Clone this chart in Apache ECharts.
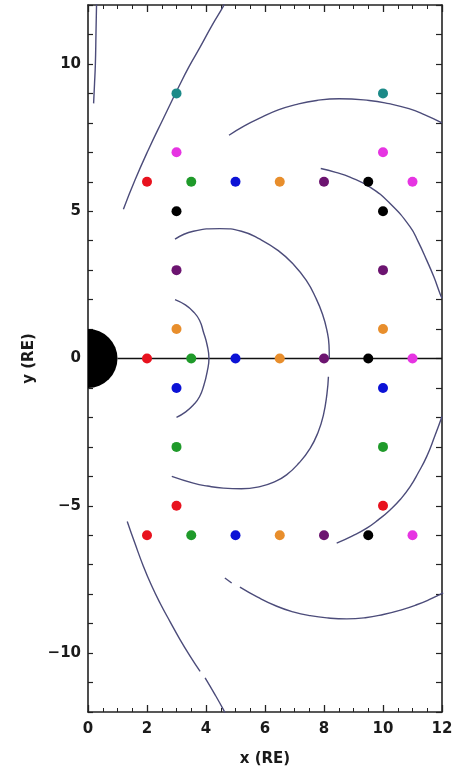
<!DOCTYPE html>
<html>
<head>
<meta charset="utf-8">
<script src="https://cdn.jsdelivr.net/npm/echarts@6/dist/echarts.min.js"></script>
<style>
  html, body { margin: 0; padding: 0; background: #ffffff; }
  #chart { width: 459px; height: 774px; }
</style>
</head>
<body>
<div id="chart"></div>
<script>
// Axis ranges and tick labels
const xRange = [0, 12];
const yRange = [-12, 12];
const xTickLabels = [0, 2, 4, 6, 8, 10, 12];
const yTickLabels = [-10, -5, 0, 5, 10];

// Earth (radius 1 RE) and the Sun-Earth line
const earthRadius = [1];
const sunEarthLine = [[1, 0], [12, 0]];

// Probe positions, grouped by marker colour
const redPts     = [[2, 6], [2, 0], [2, -6], [3, -5], [10, -5]];
const greenPts   = [[3.5, 6], [3.5, 0], [3.5, -6], [3, -3], [10, -3]];
const bluePts    = [[5, 6], [5, 0], [5, -6], [3, -1], [10, -1]];
const orangePts  = [[6.5, 6], [6.5, 0], [6.5, -6], [3, 1], [10, 1]];
const purplePts  = [[8, 6], [8, 0], [8, -6], [3, 3], [10, 3]];
const blackPts   = [[9.5, 6], [9.5, 0], [9.5, -6], [3, 5], [10, 5]];
const magentaPts = [[11, 6], [11, 0], [11, -6], [3, 7], [10, 7]];
const tealPts    = [[3, 9], [10, 9]];

// Boundary traces
const innerArc = [[2.95, 2.0], [3.3, 1.82], [3.57, 1.59], [3.78, 1.3], [3.91, 0.91], [4.04, 0.45], [4.1, 0],
  [4.04, -0.45], [3.93, -0.9], [3.78, -1.3], [3.57, -1.58], [3.3, -1.82], [3.0, -2.0]];
const middleArcNorth = [[2.95, 4.05], [3.57, 4.32], [4.47, 4.41], [5.2, 4.32], [5.83, 4.05], [6.45, 3.66], [6.96, 3.2],
  [7.4, 2.65], [7.72, 2.06], [7.95, 1.5], [8.1, 0.95], [8.17, 0.45], [8.18, 0]];
const middleArcSouth = [[8.15, -0.62], [8.1, -1.2], [7.98, -1.92], [7.8, -2.5], [7.53, -3.05], [7.15, -3.55], [6.73, -3.95],
  [6.3, -4.2], [5.83, -4.35], [5.2, -4.42], [4.59, -4.4], [4.05, -4.33], [3.57, -4.23], [2.84, -4.0]];
const outerArcNorth = [[4.78, 7.58], [5.3, 7.9], [5.91, 8.2], [6.45, 8.44], [7.04, 8.62], [7.75, 8.76], [8.51, 8.82],
  [9.53, 8.76], [10.2, 8.65], [10.88, 8.48], [11.4, 8.28], [12.0, 8.0]];
const outerArcSouthDash = [[4.64, -7.45], [4.87, -7.62]];
const outerArcSouth = [[5.15, -7.76], [5.75, -8.1], [6.4, -8.41], [6.95, -8.6], [7.53, -8.73], [8.15, -8.81], [8.77, -8.84],
  [9.4, -8.8], [10.01, -8.69], [10.6, -8.54], [11.14, -8.36], [11.6, -8.17], [12.04, -7.96]];
const rightArcNorth = [[7.89, 6.45], [8.4, 6.32], [8.88, 6.16], [9.56, 5.82], [10.24, 5.26], [10.92, 4.47], [11.2, 3.95],
  [11.48, 3.34], [11.72, 2.78], [11.93, 2.21], [12.0, 2.05]];
const rightArcSouth = [[12.0, -1.97], [11.75, -2.65], [11.48, -3.33], [11.2, -3.87], [10.92, -4.35], [10.6, -4.77],
  [10.24, -5.14], [9.85, -5.47], [9.45, -5.76], [8.95, -6.03], [8.43, -6.27]];
const dayArcUpper = [[1.2, 5.07], [1.59, 6.05], [2.04, 7.07], [2.55, 8.14], [3.06, 9.19], [3.42, 9.9], [3.8, 10.57],
  [4.2, 11.3], [4.59, 11.96], [4.62, 12.05]];
const dayArcLower = [[1.33, -5.53], [1.6, -6.3], [1.88, -7.06], [2.15, -7.7], [2.44, -8.3], [2.78, -8.93], [3.12, -9.54],
  [3.46, -10.1], [3.8, -10.62]];
const dayArcLowerTail = [[3.97, -10.84], [4.3, -11.4], [4.59, -11.92], [4.65, -12.05]];
const nearAxisTrace = [[0.29, 12.05], [0.27, 11.0], [0.25, 10.0], [0.22, 9.3], [0.19, 8.66]];

const traceColor = '#4c4c7a';
const tickFont = { fontFamily: 'DejaVu Sans', fontSize: 15, fontWeight: 'bold', color: '#1a1a1a' };

function traceSeries(data) {
  return {
    type: 'line', data: data, smooth: true, showSymbol: false, symbol: 'none',
    lineStyle: { color: traceColor, width: 1.4 }, z: 3, silent: true, clip: true
  };
}
function dotSeries(data, color) {
  return {
    type: 'scatter', data: data, symbol: 'circle', symbolSize: 10,
    itemStyle: { color: color, opacity: 1 }, z: 6, silent: true
  };
}

const chart = echarts.init(document.getElementById('chart'), null, { renderer: 'canvas' });

const frameLine = { show: true, onZero: false, lineStyle: { color: '#222', width: 1.6 } };

chart.setOption({
  animation: false,
  backgroundColor: '#ffffff',
  grid: { left: 88, right: 17, top: 5, bottom: 62, containLabel: false, outerBoundsMode: 'none' },
  xAxis: [
    {
      type: 'value', min: xRange[0], max: xRange[1], interval: 2, position: 'bottom',
      axisLine: frameLine,
      axisTick: { show: true, inside: true, length: 7, lineStyle: { color: '#222', width: 1.3 } },
      minorTick: { show: true, splitNumber: 4, length: 4, lineStyle: { color: '#222', width: 1 } },
      splitLine: { show: false },
      axisLabel: Object.assign({ margin: 10, formatter: v => xTickLabels.includes(v) ? String(v) : '' }, tickFont),
      name: 'x (RE)', nameLocation: 'middle', nameGap: 40,
      nameTextStyle: { fontFamily: 'DejaVu Sans', fontSize: 15, fontWeight: 'bold', color: '#1a1a1a' }
    },
    {
      type: 'value', min: xRange[0], max: xRange[1], interval: 2, position: 'top',
      axisLine: frameLine,
      axisTick: { show: true, inside: true, length: 7, lineStyle: { color: '#222', width: 1.3 } },
      minorTick: { show: true, splitNumber: 4, length: 4, lineStyle: { color: '#222', width: 1 } },
      splitLine: { show: false }, axisLabel: { show: false }
    }
  ],
  yAxis: [
    {
      type: 'value', min: yRange[0], max: yRange[1], interval: 1, position: 'left',
      axisLine: frameLine,
      axisTick: { show: true, inside: true, length: 5, lineStyle: { color: '#222', width: 1.2 } },
      splitLine: { show: false },
      axisLabel: Object.assign({
        margin: 7,
        formatter: v => yTickLabels.includes(v) ? String(v).replace('-', '\u2212') : ''
      }, tickFont),
      name: 'y (RE)', nameLocation: 'middle', nameGap: 48, nameRotate: 90,
      nameTextStyle: { fontFamily: 'DejaVu Sans', fontSize: 15, fontWeight: 'bold', color: '#1a1a1a' }
    },
    {
      type: 'value', min: yRange[0], max: yRange[1], interval: 1, position: 'right',
      axisLine: frameLine,
      axisTick: { show: true, inside: true, length: 6, lineStyle: { color: '#222', width: 1.2 } },
      splitLine: { show: false }, axisLabel: { show: false }
    }
  ],
  series: [
    {
      type: 'line', data: sunEarthLine, showSymbol: false, symbol: 'none',
      lineStyle: { color: '#111', width: 1.6 }, z: 2, silent: true
    },
    {
      // Earth: the dayside half of a disk of radius 1 RE
      type: 'custom', data: [[0, 0, earthRadius[0]]], z: 5, silent: true,
      renderItem: function (params, api) {
        const c = api.coord([api.value(0), api.value(1)]);
        const r = api.size([api.value(2), api.value(2)])[0];
        return {
          type: 'sector',
          shape: { cx: c[0], cy: c[1], r0: 0, r: r, startAngle: -Math.PI / 2, endAngle: Math.PI / 2, clockwise: true },
          style: { fill: '#000' }
        };
      }
    },
    traceSeries(innerArc),
    traceSeries(middleArcNorth),
    traceSeries(middleArcSouth),
    traceSeries(outerArcNorth),
    traceSeries(outerArcSouthDash),
    traceSeries(outerArcSouth),
    traceSeries(rightArcNorth),
    traceSeries(rightArcSouth),
    traceSeries(dayArcUpper),
    traceSeries(dayArcLower),
    traceSeries(dayArcLowerTail),
    traceSeries(nearAxisTrace),
    dotSeries(redPts, '#e8121e'),
    dotSeries(greenPts, '#1f9a2a'),
    dotSeries(bluePts, '#0c12d6'),
    dotSeries(orangePts, '#e88e2c'),
    dotSeries(purplePts, '#6c1470'),
    dotSeries(blackPts, '#000000'),
    dotSeries(magentaPts, '#e634e2'),
    dotSeries(tealPts, '#1c8a88')
  ]
});
</script>
</body>
</html>
